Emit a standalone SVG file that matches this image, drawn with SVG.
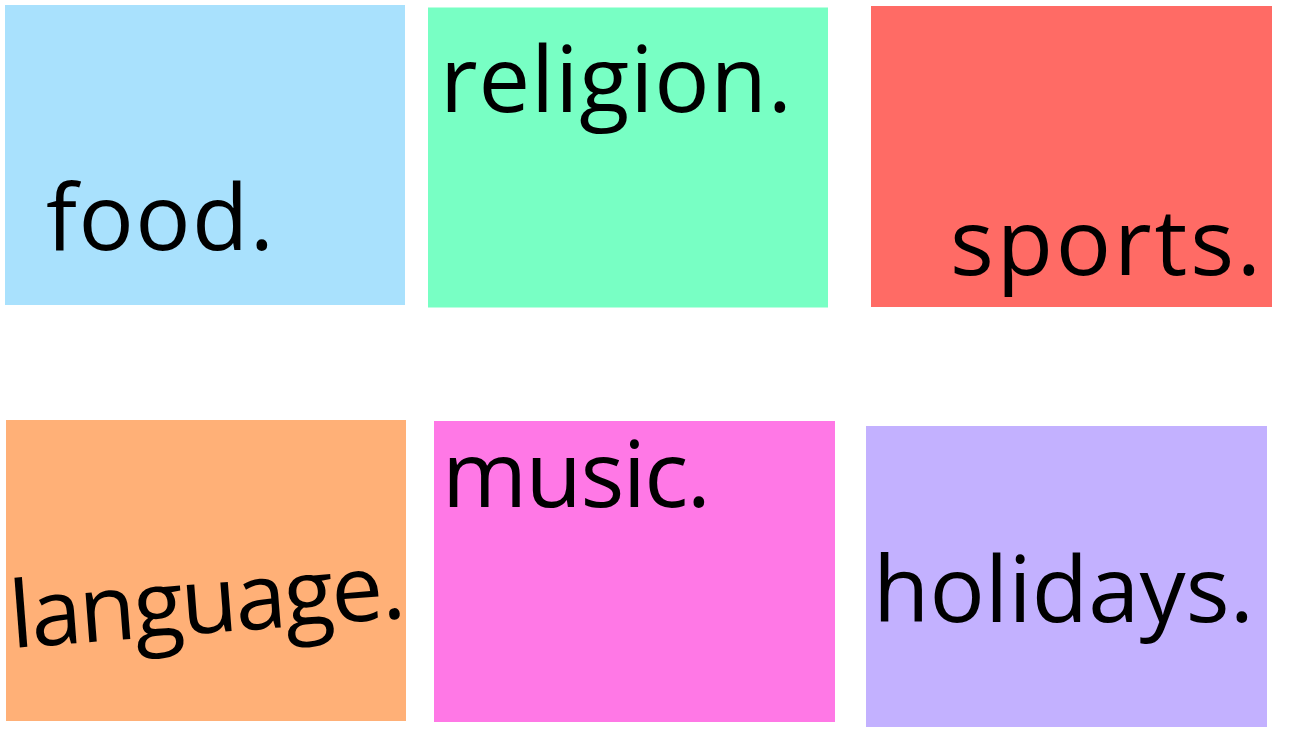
<svg xmlns="http://www.w3.org/2000/svg" width="1300" height="750" viewBox="0 0 1300 750">
<style>
.lbl{font-family:"Open Sans","DejaVu Sans",sans-serif;font-size:92px;font-weight:500;fill:#000;}
</style>
<rect x="0" y="0" width="1300" height="750" fill="#ffffff"/>
<g id="food"><rect x="5" y="5" width="400" height="300" fill="#A9E1FD"/><text class="lbl" x="46" y="250" textLength="228">food.</text></g>
<g id="religion"><rect x="428" y="7.5" width="400" height="300" fill="#78FFC4"/><text class="lbl" x="440" y="112" textLength="352">religion.</text></g>
<g id="sports"><rect x="871" y="6" width="401" height="301" fill="#FF6B65"/><text class="lbl" x="950" y="275" textLength="311">sports.</text></g>
<g id="language"><rect x="6" y="420" width="400" height="301" fill="#FFB077"/><text class="lbl" x="12" y="648" textLength="396" transform="rotate(-4.4 12 648)">language.</text></g>
<g id="music"><rect x="434" y="421" width="401" height="301" fill="#FF78E6"/><text class="lbl" x="442" y="507" textLength="269">music.</text></g>
<g id="holidays"><rect x="866" y="426" width="401" height="301" fill="#C3B1FF"/><text class="lbl" x="873" y="622" textLength="381">holidays.</text></g>
<g id="connectors"/>
</svg>
